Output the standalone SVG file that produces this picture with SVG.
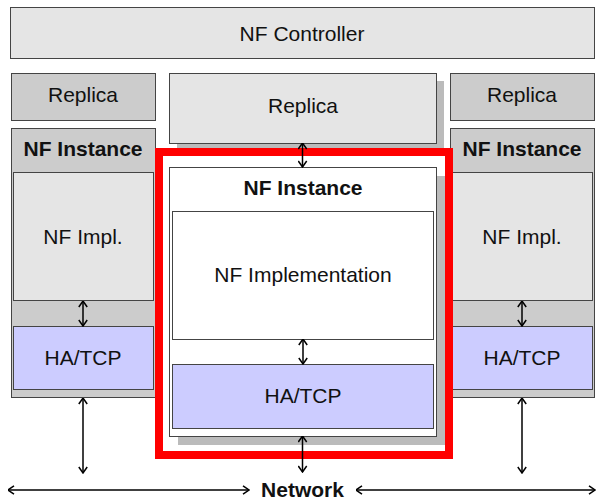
<svg xmlns="http://www.w3.org/2000/svg" width="596" height="500" viewBox="0 0 596 500">
<style>
  text { font-family: "Liberation Sans", Arial, sans-serif; font-size: 21px; fill: #111; text-anchor: middle; }
  .b { font-weight: bold; }
  .box { stroke: #444; stroke-width: 1; }
  .lg { fill: #e5e5e5; }
  .dg { fill: #cccccc; }
  .wh { fill: #ffffff; }
  .bl { fill: #ccccff; }
  .sh { fill: #bbbbbb; stroke: none; }
  .conn line { stroke: #000; stroke-width: 1.5; marker-start: url(#ah); marker-end: url(#ah); }
</style>
<defs>
  <marker id="ah" viewBox="0 0 8 10" refX="7.5" refY="5" markerWidth="8" markerHeight="10" markerUnits="userSpaceOnUse" orient="auto-start-reverse">
    <path d="M1.5,0.8 L7.5,5 L1.5,9.2" fill="none" stroke="#000" stroke-width="1.5"/>
  </marker>
</defs>
<rect width="596" height="500" fill="#fff"/>

<g id="controller">
  <rect class="box lg" x="10.5" y="7.5" width="584" height="51"/>
  <text x="302" y="40.5">NF Controller</text>
</g>

<g id="replica-left">
  <rect class="box dg" x="11.5" y="73.5" width="144" height="47"/>
  <text x="83" y="101.5">Replica</text>
</g>

<g id="replica-center">
  <rect class="sh" x="177" y="81" width="267" height="70"/>
  <rect class="box lg" x="169.5" y="73.5" width="267" height="70"/>
  <text x="303" y="113">Replica</text>
</g>

<g id="replica-right">
  <rect class="box dg" x="450.5" y="73.5" width="144" height="47"/>
  <text x="522" y="101.5">Replica</text>
</g>

<g id="instance-left">
  <rect class="box dg" x="11.5" y="128.5" width="144" height="269"/>
  <text class="b" x="83" y="156">NF Instance</text>
  <g id="impl-left">
    <rect class="box lg" x="13.5" y="172.5" width="140" height="128"/>
    <text x="83" y="243.5">NF Impl.</text>
  </g>
  <g id="hatcp-left">
    <rect class="box bl" x="13.5" y="326.5" width="140" height="63"/>
    <text x="83" y="365">HA/TCP</text>
  </g>
</g>

<g id="instance-right">
  <rect class="box dg" x="450.5" y="128.5" width="144" height="269"/>
  <text class="b" x="522" y="156">NF Instance</text>
  <g id="impl-right">
    <rect class="box lg" x="452.5" y="172.5" width="140" height="128"/>
    <text x="522" y="243.5">NF Impl.</text>
  </g>
  <g id="hatcp-right">
    <rect class="box bl" x="452.5" y="326.5" width="140" height="63"/>
    <text x="522" y="365">HA/TCP</text>
  </g>
</g>

<g id="instance-center">
  <rect class="sh" x="178" y="176" width="267" height="269"/>
  <rect class="box wh" x="169.5" y="167.5" width="267" height="269"/>
  <text class="b" x="303" y="195">NF Instance</text>
  <g id="impl-center">
    <rect class="box wh" x="172.5" y="211.5" width="261" height="128"/>
    <text x="303" y="282">NF Implementation</text>
  </g>
  <g id="hatcp-center">
    <rect class="box bl" x="172.5" y="364.5" width="261" height="64"/>
    <text x="303" y="403">HA/TCP</text>
  </g>
</g>

<g id="highlight">
  <rect x="159" y="152" width="290" height="303" fill="none" stroke="#ff0000" stroke-width="8"/>
</g>

<g id="network">
  <text class="b" x="302.5" y="497">Network</text>
</g>

<g id="connectors" class="conn">
  <line x1="83" y1="301" x2="83" y2="326"/>
  <line x1="522" y1="301" x2="522" y2="326"/>
  <line x1="83" y1="398" x2="83" y2="473"/>
  <line x1="522" y1="398" x2="522" y2="473"/>
  <line x1="302.5" y1="143" x2="302.5" y2="167"/>
  <line x1="303" y1="339" x2="303" y2="364"/>
  <line x1="302.5" y1="436" x2="302.5" y2="472"/>
  <line x1="249" y1="490" x2="8" y2="490"/>
  <line x1="356" y1="490" x2="595" y2="490"/>
</g>
</svg>
